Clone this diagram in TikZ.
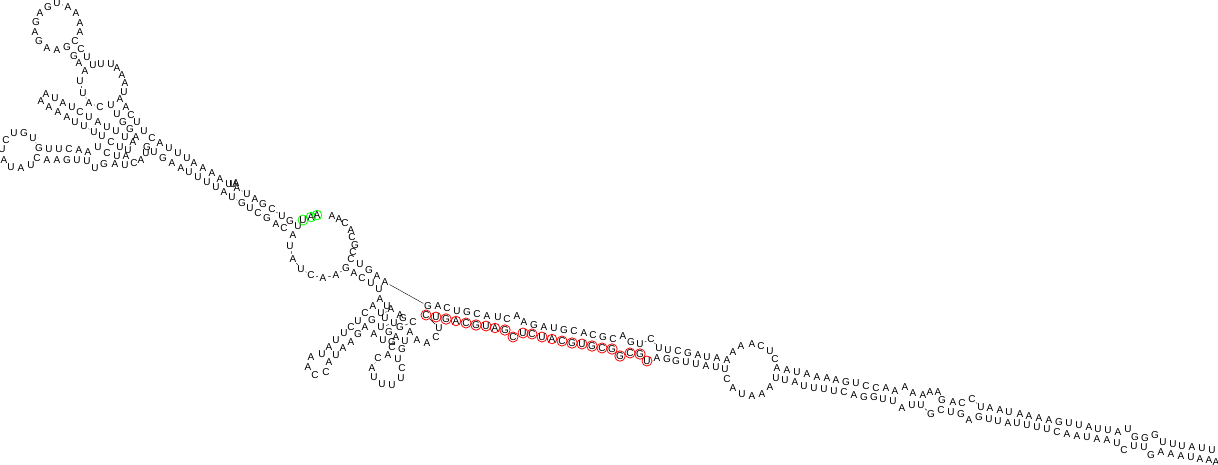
\documentclass[tikz,border=0pt]{standalone}
\usepackage{fontspec}
\usetikzlibrary{calc}
\setmainfont{Liberation Sans}

\newcounter{ntnum}
\newcommand{\strand}[2]{\foreach \x/\y/\nt in {#2}{\stepcounter{ntnum}\node[#1] (n\arabic{ntnum}) at (\x,\y) {\nt};}}

\tikzset{
nt/.style={circle,inner sep=0pt,minimum size=10pt,font=\fontsize{10}{10}\selectfont},
ntred/.style={nt,draw=red,line width=0.8pt,minimum size=9.5pt},
ntgreen/.style={nt,draw=green,line width=0.8pt,minimum size=9.5pt},
backbone/.style={black,line width=0.4pt}
}

\begin{document}
\begin{tikzpicture}[x=1pt,y=-1pt]
%\draw[step=50,gray,very thin] (0,0) grid (1218,464); %background grid
\useasboundingbox (0,0) rectangle (1218,464);

%tail, lower strand, going left
\strand{nt}{1216/462/A,1209/460/A,1200/459/A,1191/457/U,1181/456/A,1171/454/A,1161/452/A,1151/455/G,1144/447/U,1134/446/U,
1124/450/C,1117/443/U,1107/440/A,1097/439/A,1087/437/U,1077/436/A,1067/434/A,1057/432/C,1047/429/U,1037/427/U,
1027/425/U,1017/423/U,1008/423/A,998/421/U,989/419/U,979/417/G,969/420/A,961/414/G,951/412/U,941/410/C,
931/414/G,921/405/U,912/405/U,902/408/A,893/401/U,883/399/U,874/397/G,864/397/G,854/395/A,844/392/C,
834/391/U,824/389/U,814/388/U,804/386/U,795/382/A,785/380/U,776/378/U,770/387/A,762/394/A,752/396/A,
742/394/U,733/388/A,727/379/C,725/369/U,716/367/U,706/366/A,696/364/U,686/362/U,676/361/G,667/359/G,657/358/A}

%marked strand
\strand{ntred}{647/361/U,640/354/G,630/353/C,620/356/G,612/349/G,602/348/C,592/346/G,582/344/U,572/343/G,562/341/C,
552/339/A,542/337/U,532/334/C,523/333/U,513/337/C,505/330/G,495/328/A,486/326/U,476/325/G,466/323/C,
456/321/A,446/319/G,436/317/U,426/315/C}

%hairpins under the long line
\strand{nt}{439/328/U,436/337/C,427/343/A,417/340/A,410/332/A,405/341/U,402/349/G,398/359/U,402/368/C,401/378/U,
392/385/U,382/384/U,374/377/U,372/368/A,378/358/C,388/355/A,392/347/C,392/342/G,396/337/A,389/332/G,
383/340/U,374/334/A,381/327/U,394/323/U,400/327/G,413/322/C,403/318/G,400/315/A,391/309/A,387/306/U,
385/318/U,381/313/U,372/320/G,365/327/A,358/334/G,351/342/A,343/348/A,336/355/U,329/362/A,326/372/C,
315/375/C,308/367/A,311/357/A,322/354/U,329/347/A,336/340/U,344/333/U,351/327/C,358/321/U,365/313/C,
373/306/A,380/299/A,379/289/U}

%big loop, then long stem to the top left
\strand{nt}{371/283/U,362/278/C,354/273/A,346/268/G,336/275/A,323/278/A,311/275/C,301/269/U,293/259/A,290/246/U,
293/235/A,284/228/C,276/224/A,267/218/G,258/213/C,250/208/U,242/203/G,232/197/U,224/192/A,216/187/U,
207/182/U,198/177/U,189/172/U,181/168/A,172/163/A,163/158/G,154/152/U,147/147/G,146/153/U,141/160/A,
134/163/C,125/165/U,115/164/A,104/164/G,95/168/U,87/161/U,77/160/U,67/160/G,57/160/A,47/160/A,
37/158/C,31/165/U,21/168/A,11/167/U,4/160/A,2/149/U,6/140/C,14/133/U,24/133/G,33/138/U,
39/148/G,49/149/U,59/149/U,69/149/C,79/150/A,88/152/A,98/147/U,107/153/C,117/156/U,126/156/A,
128/150/U,120/147/U,111/142/C,102/136/U,94/132/U,84/126/U,75/122/U,67/117/A,58/112/A,49/107/A,
41/101/A,46/94/A,55/98/U,63/103/A,72/107/U,80/112/C,89/117/U,98/122/A,107/127/U,116/131/U,
125/137/U,133/142/A,136/137/A,130/129/G,123/122/G,117/114/U,111/105/U,100/107/C,89/103/A,83/93/U,
80/81/U,85/71/A,79/63/A,74/56/G,67/47/G,57/50/A,47/48/A,39/41/G,35/32/A,36/22/G,
40/13/A,48/7/G,57/3/U,68/7/A,76/13/A,80/23/A,80/32/A,75/41/C,81/49/C,87/57/U,
93/65/U,101/64/U,111/64/U,117/68/A,122/75/A,125/83/A,124/92/U,120/99/A,126/107/A,131/115/C,
137/122/U,144/131/U,152/138/C,160/143/A,169/148/U,178/153/U,187/158/U,194/163/A,203/168/A,212/173/A,
220/179/A,229/184/U,233/184/U,236/183/A,237/188/A,247/194/U,255/199/A,263/204/G,272/209/C,282/216/U,
290/221/G,298/226/U}

%marked bases on the loop
\strand{ntgreen}{303/220/U,311/217/A,317/215/A}
\edef\ntbreak{\arabic{ntnum}}

\strand{nt}{332/216/A,339/219/A,345/223/C,351/230/A,352/237/C,355/245/G,353/252/C,351/259/C,360/264/U,369/270/G,
377/276/A,385/282/A}

%upper strand from the long line to the right edge
\strand{nt}{428/306/G,438/306/A,447/308/C,457/311/U,467/312/G,477/314/C,487/316/A,498/317/U,507/319/C,517/316/A,
524/322/A,534/325/G,544/327/A,554/328/U,564/330/G,574/331/C,584/333/A,593/335/C,603/337/G,613/339/C,
623/336/A,631/342/G,640/344/U,651/339/C,659/348/U,668/350/U,678/351/C,688/353/G,698/355/A,707/357/U,
717/358/A,727/360/A,733/352/A,741/346/A,752/344/A,761/346/C,770/351/U,775/359/C,777/368/A,787/370/A,
797/372/U,807/374/A,817/377/A,827/378/A,836/380/A,846/382/G,856/383/U,866/386/C,876/388/C,886/388/A,
895/391/A,905/387/A,913/393/A,923/395/A,930/392/A,938/392/A,942/400/G,953/402/A,962/403/C,972/399/C,
981/407/U,990/408/A,1000/410/A,1009/412/U,1020/414/A,1029/416/A,1039/418/A,1049/420/A,1059/422/G,1069/423/U,
1079/425/U,1089/427/A,1098/429/U,1108/430/U,1118/432/A,1128/429/U,1135/437/G,1145/438/G,1155/435/G,1163/442/U,
1173/444/U,1182/446/U,1192/447/A,1202/448/U,1212/450/U}

\edef\ntlast{\arabic{ntnum}}
%only gaps wider than a letter show the backbone
\foreach \i [remember=\i as \j (initially 1)] in {2,...,\ntlast}{
\path let \p1=($(n\j.center)-(n\i.center)$),\n1={veclen(\x1,\y1)} in \pgfextra{\xdef\ntgap{\n1}};
\ifnum\j=\ntbreak\else\ifdim\ntgap>11.6pt \draw[backbone] (n\j) -- (n\i); \fi\fi
}

\end{tikzpicture}
\end{document}
